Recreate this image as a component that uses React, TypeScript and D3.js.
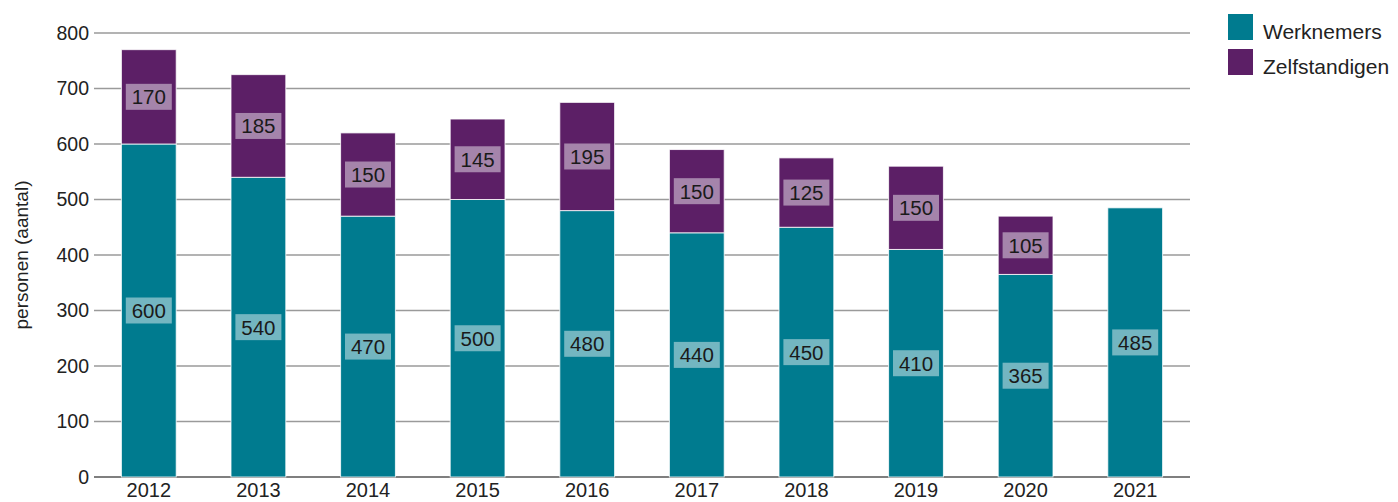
import React from "react";
import * as d3 from "d3";

const years = ["2012", "2013", "2014", "2015", "2016", "2017", "2018", "2019", "2020", "2021"];
const werknemers = [600, 540, 470, 500, 480, 440, 450, 410, 365, 485];
const zelfstandigen = [170, 185, 150, 145, 195, 150, 125, 150, 105, 0];
const yTicks = [0, 100, 200, 300, 400, 500, 600, 700, 800];
const seriesNames = ["Werknemers", "Zelfstandigen"];
const colors = ["#007b8f", "#5c1f66"];

const W = 1398, H = 502;
const M = { left: 94, right: 208, top: 33, bottom: 25 };
const FONT = "'Liberation Sans', Arial, sans-serif";

export default function App() {
  const x = d3.scaleBand<string>().domain(years).range([M.left, W - M.right]).paddingInner(0.5).paddingOuter(0.25);
  const y = d3.scaleLinear().domain([0, 800]).range([H - M.bottom, M.top]);
  const rows = years.map((yr, i) => ({ yr, w: werknemers[i], z: zelfstandigen[i] }));
  const stack = d3.stack<any>().keys(["w", "z"])(rows);

  return (
    <svg width={W} height={H} style={{ position: "absolute", left: 0, top: 0, fontFamily: FONT }}>
      {yTicks.map((t) => (
        <g key={t}>
          <line x1={M.left} x2={W - M.right} y1={y(t)} y2={y(t)} stroke={t === 0 ? "#555" : "#9a9a9a"} strokeWidth={1.5} />
          <text x={89} y={y(t)} dy="0.35em" textAnchor="end" fontSize={19.5} fill="#222">{t}</text>
        </g>
      ))}
      {stack.map((s, si) =>
        s.map((d, i) => {
          const v = d[1] - d[0];
          if (v <= 0) return null;
          const bx = x(years[i])!;
          return (
            <rect key={si + "-" + i} x={bx} y={y(d[1])} width={x.bandwidth()} height={y(d[0]) - y(d[1])}
              fill={colors[si]} stroke="#ffffff" strokeOpacity={0.8} strokeWidth={1} />
          );
        })
      )}
      {stack.map((s, si) =>
        s.map((d, i) => {
          const v = d[1] - d[0];
          if (v <= 0) return null;
          const cx = x(years[i])! + x.bandwidth() / 2;
          const cy = y((d[0] + d[1]) / 2);
          return (
            <g key={"l" + si + "-" + i}>
              <rect x={cx - 23} y={cy - 13} width={46} height={26} fill="#ffffff" fillOpacity={0.45} />
              <text x={cx} y={cy} dy="0.36em" textAnchor="middle" fontSize={20.5} fill="#1a1a1a">{v}</text>
            </g>
          );
        })
      )}
      {years.map((yr) => (
        <text key={yr} x={x(yr)! + x.bandwidth() / 2} y={H - 5} textAnchor="middle" fontSize={20} fill="#222">{yr}</text>
      ))}
      <text transform={`translate(28, ${(M.top + H - M.bottom) / 2}) rotate(-90)`} textAnchor="middle" fontSize={19} fill="#222">personen (aantal)</text>
      {seriesNames.map((n, i) => (
        <g key={n}>
          <rect x={1228} y={14 + i * 35} width={25} height={26} fill={colors[i]} />
          <text x={1263} y={32 + i * 35} dy="0.35em" fontSize={21} fill="#222">{n}</text>
        </g>
      ))}
    </svg>
  );
}
